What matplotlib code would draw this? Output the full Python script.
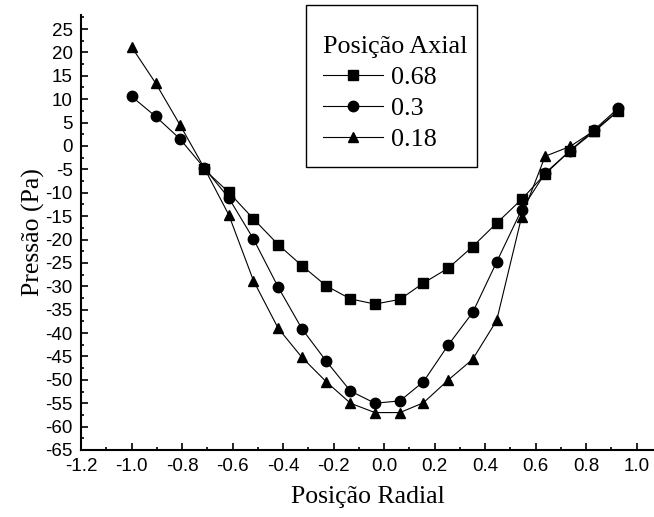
import matplotlib
matplotlib.use('Agg')
import matplotlib.pyplot as plt
from matplotlib.patches import Rectangle
from matplotlib.ticker import MultipleLocator, FuncFormatter

# radial positions of the measurement points
radial = [-1.0, -0.904, -0.808, -0.712, -0.615, -0.517, -0.419, -0.325, -0.229,
          -0.133, -0.036, 0.063, 0.156, 0.255, 0.351, 0.446, 0.545, 0.638,
          0.737, 0.833, 0.928]

# pressure (Pa) for each axial position
p_068 = [-5.0, -9.9, -15.6, -21.1, -25.6, -29.9, -32.7, -33.8, -32.8, -29.3,
         -26.1, -21.5, -16.5, -11.4, -6.0, -1.0, 3.1, 7.5]
p_030 = [10.6, 6.3, 1.5, -4.7, -11.1, -19.9, -30.2, -39.1, -46.0, -52.4, -55.0,
         -54.5, -50.4, -42.5, -35.6, -24.8, -13.6, -5.8, -1.0, 3.5, 8.1]
p_018 = [21.2, 13.4, 4.5, -4.7, -14.7, -28.8, -39.0, -45.2, -50.4, -55.0, -57.0,
         -57.0, -54.9, -50.0, -45.6, -37.3, -15.1, -2.2, -0.1, 3.3, 7.6]

labels = ['0.68', '0.3', '0.18']

serif = 'Liberation Serif'
sans = 'Liberation Sans'

W, H = 654, 517
fig = plt.figure(figsize=(W / 100, H / 100), dpi=100)
ax = fig.add_axes([81 / W, 67 / H, 573 / W, 435 / H])

line_kw = dict(color='black', linewidth=0.8, markersize=7.5)
ax.plot(radial[3:], p_068, marker='s', label=labels[0], **line_kw)
ax.plot(radial, p_030, marker='o', label=labels[1], **line_kw)
ax.plot(radial, p_018, marker='^', label=labels[2], **line_kw)

ax.set_xlim(-1.2, 1.069)
ax.set_ylim(-65, 28)

ax.xaxis.set_major_locator(MultipleLocator(0.2))
ax.xaxis.set_minor_locator(MultipleLocator(0.1))
ax.yaxis.set_major_locator(MultipleLocator(5))
ax.yaxis.set_minor_locator(MultipleLocator(2.5))
ax.xaxis.set_major_formatter(FuncFormatter(lambda v, _: f"{v:.1f}"))
ax.yaxis.set_major_formatter(FuncFormatter(lambda v, _: f"{v:.0f}"))

# only left and bottom axis lines
ax.spines['top'].set_visible(False)
ax.spines['right'].set_visible(False)
ax.spines['left'].set_linewidth(1.5)
ax.spines['bottom'].set_linewidth(1.5)

ax.tick_params(which='major', direction='in', length=5, width=1.2, pad=6)
ax.tick_params(which='minor', direction='in', length=2.5, width=1.2)
for lbl in ax.get_xticklabels() + ax.get_yticklabels():
    lbl.set_fontfamily(sans)
    lbl.set_fontsize(13.5)

ax.set_xlabel('Posição Radial', fontfamily=serif, fontsize=18.5, labelpad=8)
ax.set_ylabel('Pressão (Pa)', fontfamily=serif, fontsize=18.5, labelpad=0)

# legend without its own frame; the box is drawn separately to get the taller padding
leg = ax.legend(title='Posição Axial', loc='upper left',
                bbox_to_anchor=(307 / W, 1 - 20 / H), bbox_transform=fig.transFigure,
                prop={'family': serif, 'size': 18.8},
                title_fontproperties={'family': serif, 'size': 18.8},
                alignment='left', frameon=False, borderpad=0.6, labelspacing=0.3,
                handlelength=2.3, handletextpad=0.3, borderaxespad=0)
fig.patches.append(Rectangle((306 / W, 1 - 167 / H), 171 / W, 162 / H,
                             transform=fig.transFigure, fill=False,
                             edgecolor='black', linewidth=1.0))

fig.savefig('out.png', dpi=100, facecolor='white')
